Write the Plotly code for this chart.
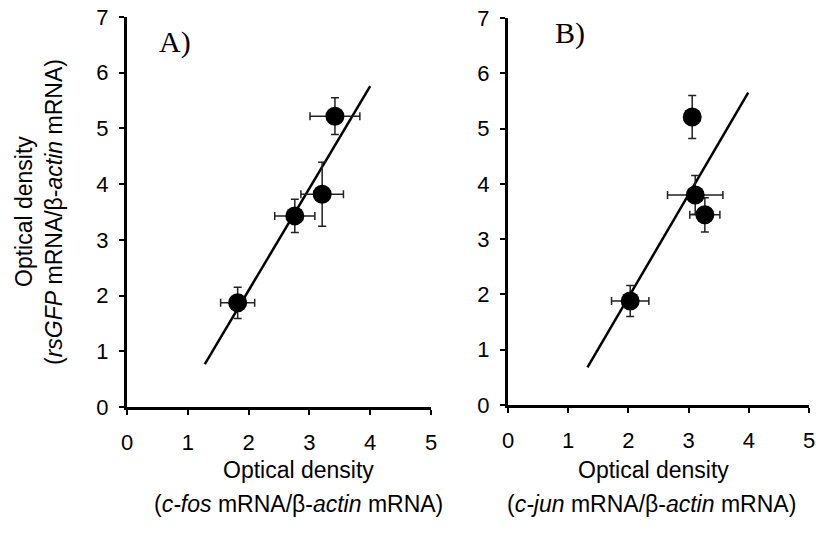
import plotly.graph_objects as go

# ---- data ----
# Panel A: c-fos vs rsGFP
a_x = [1.82, 2.76, 3.21, 3.42]
a_y = [1.87, 3.43, 3.82, 5.22]
a_xerr = [0.28, 0.33, 0.35, 0.41]
a_yerr = [0.28, 0.30, 0.575, 0.33]
a_fit_x = [1.28, 4.00]
a_fit_y = [0.77, 5.76]

# Panel B: c-jun vs rsGFP
b_x = [2.03, 3.06, 3.11, 3.27]
b_y = [1.88, 5.21, 3.80, 3.44]
b_xerr = [0.31, 0.0, 0.46, 0.25]
b_yerr = [0.28, 0.39, 0.35, 0.31]
b_fit_x = [1.32, 3.99]
b_fit_y = [0.68, 5.65]

x_ticks = [0, 1, 2, 3, 4, 5]
y_ticks = [0, 1, 2, 3, 4, 5, 6, 7]

W, H = 816, 533
SANS = "Arial, Liberation Sans, sans-serif"
SERIF = "Times New Roman, Liberation Serif, serif"

fig = go.Figure()

def add_panel(xs, ys, xe, ye, fx, fy, xa, ya):
    fig.add_trace(go.Scatter(
        x=fx, y=fy, mode="lines", xaxis=xa, yaxis=ya,
        line=dict(color="black", width=2.5), showlegend=False, hoverinfo="skip"))
    fig.add_trace(go.Scatter(
        x=xs, y=ys, mode="markers", xaxis=xa, yaxis=ya,
        marker=dict(color="black", size=19),
        error_x=dict(type="data", array=xe, visible=True, color="#222", thickness=1.5, width=4),
        error_y=dict(type="data", array=ye, visible=True, color="#222", thickness=1.5, width=4),
        showlegend=False))

add_panel(a_x, a_y, a_xerr, a_yerr, a_fit_x, a_fit_y, "x", "y")
add_panel(b_x, b_y, b_xerr, b_yerr, b_fit_x, b_fit_y, "x2", "y2")

def px(x):
    return x / W

def py(y):
    return 1 - y / H

axis_common = dict(
    showline=True, linecolor="black", linewidth=3, mirror=False,
    showgrid=False, zeroline=False, ticks="outside", ticklen=5, tickwidth=2,
    tickcolor="black", tickfont=dict(family=SANS, size=22, color="black"),
    fixedrange=True, automargin=False, ticklabeloverflow="allow",
)

fig.update_layout(
    width=W, height=H, margin=dict(l=0, r=0, t=0, b=0),
    paper_bgcolor="white", plot_bgcolor="white",
    xaxis=dict(domain=[px(127), px(431)], range=[0, 5], tickvals=x_ticks,
               anchor="y", ticklabelstandoff=9, **axis_common),
    yaxis=dict(domain=[py(407), py(17)], range=[0, 7], tickvals=y_ticks,
               anchor="x", ticklabelstandoff=6, **axis_common),
    xaxis2=dict(domain=[px(508), px(809)], range=[0, 5], tickvals=x_ticks,
                anchor="y2", ticklabelstandoff=9, **axis_common),
    yaxis2=dict(domain=[py(405), py(18)], range=[0, 7], tickvals=y_ticks,
                anchor="x2", ticklabelstandoff=6, **axis_common),
)

ann = []
def text(x, y, s, size=23, family=SANS, angle=0):
    ann.append(dict(x=px(x), y=py(y), xref="paper", yref="paper", text=s,
                    showarrow=False, textangle=angle, xanchor="center", yanchor="middle",
                    font=dict(family=family, size=size, color="black")))

text(24, 212, "Optical density", angle=-90)
text(54, 212, "(<i>rsGFP</i> mRNA/β-<i>actin</i> mRNA)", angle=-90)
text(298, 470, "Optical density")
text(298, 504, "(<i>c-fos</i> mRNA/β-<i>actin</i> mRNA)")
text(653, 470, "Optical density")
text(651, 504, "(<i>c-jun</i> mRNA/β-<i>actin</i> mRNA)")
text(175, 42, "A)", size=30, family=SERIF)
text(570, 33, "B)", size=30, family=SERIF)
fig.update_layout(annotations=ann)

fig.write_html(
    "out.html",
    config={"displayModeBar": False, "staticPlot": True},
    post_script="document.body.style.margin='0';document.body.style.overflow='hidden';",
)
